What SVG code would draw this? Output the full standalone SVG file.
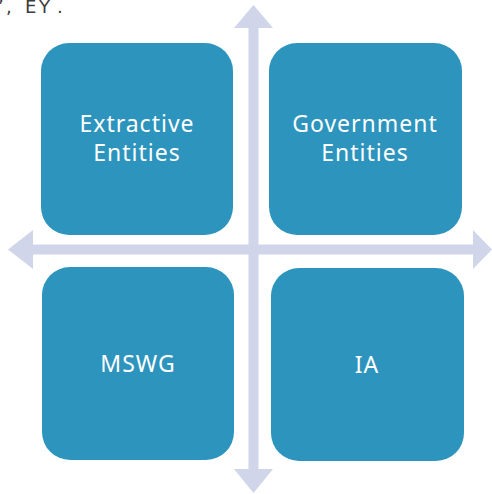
<svg xmlns="http://www.w3.org/2000/svg" width="492" height="494" viewBox="0 0 492 494">
<style>
.box{fill:#2D94BD}
.lbl{font-family:"Noto Sans","Liberation Sans",sans-serif;font-size:23px;fill:#FFFFFF;text-anchor:middle;letter-spacing:1px}
.arr{fill:#D0D5EA}
.top{font-family:"DejaVu Sans","Liberation Sans",sans-serif;font-size:18px;fill:#3C3C3C}
</style>
<rect width="492" height="494" fill="#FFFFFF"/>
<text class="top" x="-2 6 17 25 39 57" y="13">’, EY.</text>
<g id="connectors">
<path class="arr" d="M253.5,5 L273,28 L258.5,28 L258.5,469 L273,469 L253.5,493 L234,469 L248.5,469 L248.5,28 L234,28 Z"/>
<path class="arr" d="M8,249.5 L33,230 L33,244.5 L473,244.5 L473,230 L492,249.5 L473,269 L473,254.5 L33,254.5 L33,269 Z"/>
</g>
<g id="extractive">
<rect class="box" x="41" y="43" width="192" height="192" rx="28"/>
<text class="lbl" x="137" y="132">Extractive</text>
<text class="lbl" x="137" y="161">Entities</text>
</g>
<g id="government">
<rect class="box" x="269" y="43" width="193" height="192" rx="28"/>
<text class="lbl" x="365" y="132">Government</text>
<text class="lbl" x="365" y="161">Entities</text>
</g>
<g id="mswg">
<rect class="box" x="42" y="267" width="192" height="193" rx="28"/>
<text class="lbl" x="138" y="372">MSWG</text>
</g>
<g id="ia">
<rect class="box" x="271" y="268" width="193" height="193" rx="28"/>
<text class="lbl" x="367" y="373">IA</text>
</g>
</svg>
